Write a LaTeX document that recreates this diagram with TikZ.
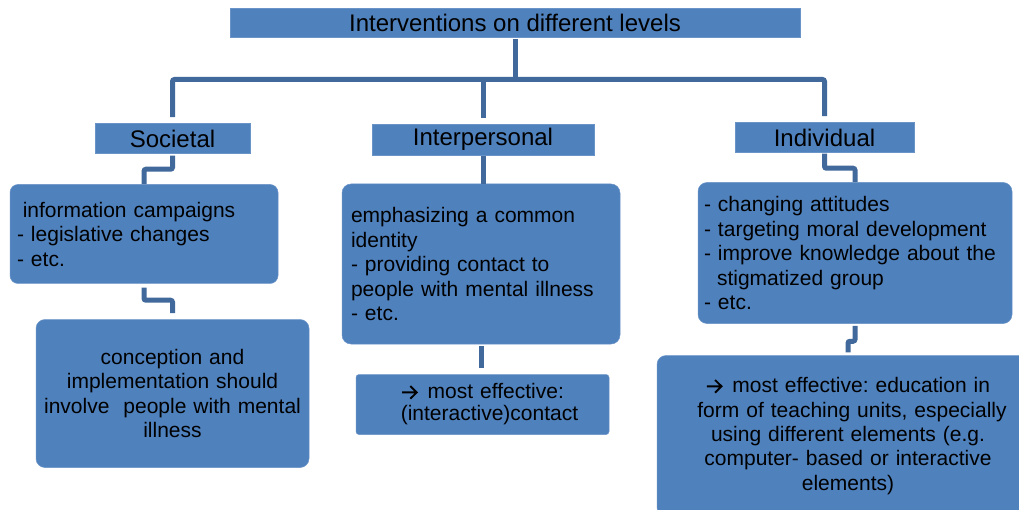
\documentclass[tikz,border=0pt]{standalone}
\usepackage{fontspec}
\setmainfont{Liberation Sans}
\usetikzlibrary{calc}
\newcommand{\myarrow}{\tikz[baseline=0pt,x=1pt,y=1pt]{\draw[draw=black, line width=1.9pt, sharp corners, line cap=butt, line join=miter] (0,6.5) -- (14.2,6.5) (8.2,12.8) -- (14.6,6.5) -- (8.2,0.2);}\hspace*{3pt}}
\definecolor{boxblue}{HTML}{4F81BD}
\definecolor{boxedge}{HTML}{6A93C7}
\definecolor{connblue}{HTML}{41699C}
\tikzset{
  box/.style={fill=boxblue, draw=boxedge, line width=0.5pt, inner sep=0pt, text=black},
  level/.style={box, font=\fontsize{24}{28}\selectfont},
  listbox/.style={box, rounded corners=9pt, font=\fontsize{21}{24.5}\selectfont\frenchspacing, align=left},
  midbox/.style={box, rounded corners=9pt, font=\fontsize{21}{24.3}\selectfont\frenchspacing, align=center},
  conn/.style={draw=connblue, line width=5pt, rounded corners=2pt}
}
\begin{document}
\begin{tikzpicture}[x=1pt,y=-1pt]
\useasboundingbox (0,0) rectangle (1019,510);
\clip (0,0) rectangle (1019,510);
% title and levels
\node[level, minimum width=570pt, minimum height=29pt] (title) at (515,22.5) {Interventions on different levels};
\node[level, minimum width=155pt, minimum height=30pt] (soc) at (172.5,138.5) {Societal};
\node[level, minimum width=222pt, minimum height=31pt] (inter) at (483,139.5) {Interpersonal};
\node[level, minimum width=179pt, minimum height=30pt] (ind) at (824.5,137.5) {Individual};
% content boxes
\node[listbox, rounded corners=8pt, minimum width=268pt, minimum height=99pt, text width=254pt] (b1) at (144,234)
  {\hspace*{5.8pt}information campaigns\\- legislative changes\\- etc.};
\node[midbox, minimum width=273pt, minimum height=148pt, text width=259pt] (b2) at (172.5,393.5)
  {conception and\\implementation should\\involve\ \ people with mental\\illness};
\node[listbox, minimum width=278pt, minimum height=160pt, text width=260pt] (b3) at (481,264)
  {emphasizing a common\\identity\\- providing contact to\\people with mental illness\\- etc.};
\node[midbox, rounded corners=3pt, font=\fontsize{21}{22}\selectfont\frenchspacing, minimum width=253pt, minimum height=60pt, text width=239pt] (b4) at (482.5,404.5)
  {\myarrow\ most effective:\\\hspace*{14pt}(interactive)contact};
\node[listbox, minimum width=314pt, minimum height=141pt, text width=302pt] (b5) at (855,253)
  {- changing attitudes\\- targeting moral development\\- improve knowledge about the\\\hspace*{13pt}stigmatized group\\- etc.};
\node[midbox, minimum width=382pt, minimum height=161pt, text width=368pt] (b6) at (848,436)
  {\myarrow\ most effective: education in\\\hspace*{8pt}form of teaching units, especially\\using different elements (e.g.\\computer- based or interactive\\elements)};
% connectors
\coordinate (bus) at (0,79.5);
\draw[conn, shorten <=2pt] (title.south) -- (title.south |- bus);
\draw[conn, shorten <=6pt, shorten >=6pt] (soc.north) -- (soc.north |- bus) -- (ind.north |- bus) -- (ind.north);
\draw[conn, shorten <=6pt] (inter.north) -- (inter.north |- bus);
\draw[conn, shorten <=2pt] (soc.south) |- ($(b1.north)+(0,-15)$) -- (b1.north);
\draw[conn, shorten <=4pt, shorten >=6pt] (b1.south) |- ($(b2.north)+(0,-19)$) -- (b2.north);
\draw[conn, shorten <=1pt] (inter.south) -- (inter.south |- b3.north);
\draw[conn, shorten <=2pt, shorten >=6pt] (b3.south) -- (b3.south |- b4.north);
\draw[conn, shorten <=1pt] (ind.south) |- ($(b5.north)+(0,-14)$) -- (b5.north);
\draw[conn, shorten <=2pt, shorten >=3pt] (b5.south) |- ($(b6.north)+(0,-14)$) -- (b6.north);
\end{tikzpicture}
\end{document}
